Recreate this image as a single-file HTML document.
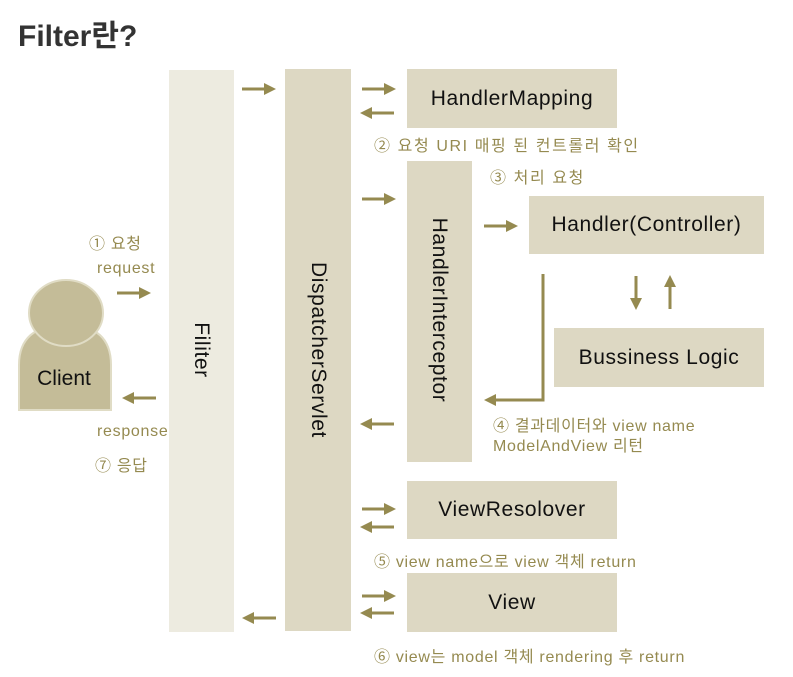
<!DOCTYPE html>
<html><head><meta charset="utf-8"><style>
body{margin:0;width:793px;height:677px;background:#fff;position:relative;overflow:hidden;font-family:"Liberation Sans","Noto Sans CJK KR",sans-serif}
.b{position:absolute;background:#ddd8c3;display:flex;align-items:center;justify-content:center;font-size:21px;letter-spacing:0.6px;color:#111}
.v{position:absolute;white-space:nowrap;font-size:21px;letter-spacing:0.6px;color:#111;transform:translate(-50%,-50%) rotate(90deg)}
.t{position:absolute;white-space:nowrap;font-size:16px;letter-spacing:0.7px;color:#958a50}
</style></head><body>
<div style="position:absolute;left:18px;top:11px;font-size:30px;font-weight:bold;color:#333">Filter란?</div>
<div class="b" style="left:169px;top:70px;width:65px;height:562px;background:#edebe0"></div>
<div class="b" style="left:285px;top:69px;width:66px;height:562px"></div>
<div class="b" style="left:407px;top:69px;width:210px;height:59px">HandlerMapping</div>
<div class="b" style="left:407px;top:161px;width:65px;height:301px"></div>
<div class="b" style="left:529px;top:196px;width:235px;height:58px">Handler(Controller)</div>
<div class="b" style="left:554px;top:328px;width:210px;height:59px">Bussiness Logic</div>
<div class="b" style="left:407px;top:481px;width:210px;height:58px">ViewResolover</div>
<div class="b" style="left:407px;top:573px;width:210px;height:59px">View</div>
<div class="v" style="left:201px;top:350px">Filiter</div>
<div class="v" style="left:318px;top:350px">DispatcherServlet</div>
<div class="v" style="left:439px;top:310px">HandlerInterceptor</div>
<svg style="position:absolute;left:0;top:0" width="793" height="677">
<defs>
<marker id="a" markerWidth="4" markerHeight="4" refX="2" refY="2" orient="auto" markerUnits="strokeWidth"><path d="M0,0 L4,2 L0,4 Z" fill="#958a50"/></marker>
</defs>
<path d="M19 410 V365 Q19 325 66 325 Q111 325 111 365 V410 Z" fill="#c4bc98" stroke="#e0dcc5" stroke-width="2"/>
<ellipse cx="66" cy="313" rx="37" ry="33" fill="#c4bc98" stroke="#e0dcc5" stroke-width="2"/>
<text x="64" y="385" font-size="21" text-anchor="middle" fill="#111" font-family="Liberation Sans, sans-serif">Client</text>
<g stroke="#958a50" stroke-width="3" fill="none" marker-end="url(#a)">
<line x1="242" y1="89" x2="270" y2="89"/>
<line x1="362" y1="89" x2="390" y2="89"/>
<line x1="394" y1="113" x2="366" y2="113"/>
<line x1="362" y1="199" x2="390" y2="199"/>
<line x1="484" y1="226" x2="512" y2="226"/>
<line x1="117" y1="293" x2="145" y2="293"/>
<line x1="156" y1="398" x2="128" y2="398"/>
<line x1="394" y1="424" x2="366" y2="424"/>
<line x1="636" y1="276" x2="636" y2="304"/>
<line x1="670" y1="309" x2="670" y2="281"/>
<polyline points="543,274 543,400 490,400"/>
<line x1="362" y1="509" x2="390" y2="509"/>
<line x1="394" y1="527" x2="366" y2="527"/>
<line x1="362" y1="596" x2="390" y2="596"/>
<line x1="394" y1="613" x2="366" y2="613"/>
<line x1="276" y1="618" x2="248" y2="618"/>
</g>
</svg>
<div class="t" style="left:89px;top:230px">① 요청</div>
<div class="t" style="left:97px;top:260px">request</div>
<div class="t" style="left:97px;top:423px">response</div>
<div class="t" style="left:95px;top:452px">⑦ 응답</div>
<div class="t" style="left:374px;top:132px;letter-spacing:1.6px">② 요청 URI 매핑 된 컨트롤러 확인</div>
<div class="t" style="left:490px;top:164px;letter-spacing:1.6px">③ 처리 요청</div>
<div class="t" style="left:493px;top:412px">④ 결과데이터와 view name</div>
<div class="t" style="left:493px;top:432px">ModelAndView 리턴</div>
<div class="t" style="left:374px;top:548px">⑤ view name으로 view 객체 return</div>
<div class="t" style="left:374px;top:643px">⑥ view는 model 객체 rendering 후 return</div>
</body></html>
